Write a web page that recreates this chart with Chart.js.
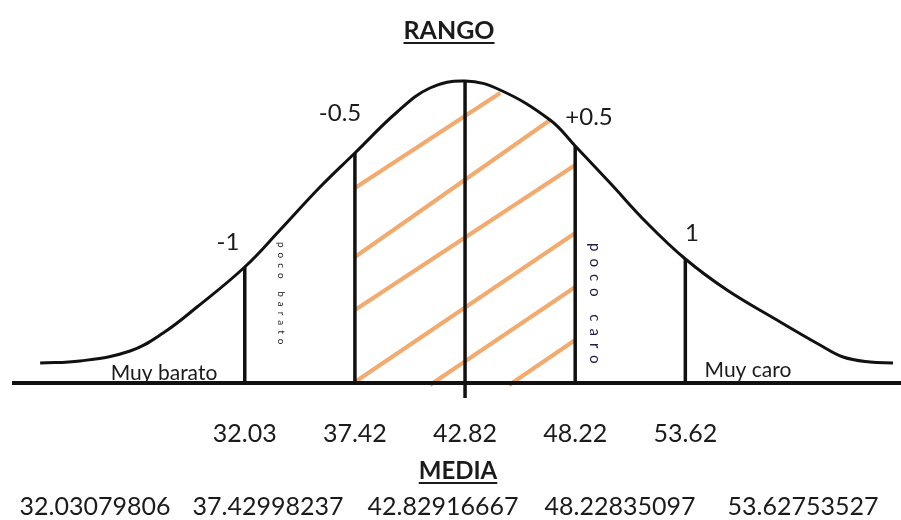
<!DOCTYPE html>
<html>
<head>
<meta charset="utf-8">
<script src="https://cdn.jsdelivr.net/npm/chart.js@4.4.1/dist/chart.umd.min.js"></script>
<style>
  html, body { margin: 0; padding: 0; background: #fff; }
  #wrap { width: 901px; height: 520px; }
</style>
</head>
<body>
<div id="wrap"><canvas id="myChart" width="901" height="520"></canvas></div>
<script>
// media y cortes a +/- 0.5 y 1 desviación
const cortes = [32.03079806, 37.42998237, 42.82916667, 48.22835097, 53.62753527];
const desv = ['-1', '-0.5', '', '+0.5', '1'];
// altura de la curva en cada corte
const alturaCortes = [116, 230, 302, 237, 124];

// curva campana
const curvaX = [22.00, 23.96, 26.41, 28.03, 29.69, 32.03, 33.76, 35.72, 37.43, 39.50, 41.11, 42.83,
                44.55, 47.00, 48.23, 49.94, 51.75, 53.63, 55.67, 58.12, 60.23, 61.36, 62.68, 63.81];
const curvaY = [20, 22, 32, 50, 76, 116, 153, 196, 230, 271, 295, 302,
                293, 263, 237, 200, 160, 124, 93, 63, 38, 26, 21, 20];

// rayado naranja entre -0.5 y +0.5
const rayaX1 = [37.43, 37.43, 37.43, 37.43, 41.11, 44.99];
const rayaY1 = [195, 126, 73, 1, -2, -2];
const rayaX2 = [44.55, 47.00, 48.23, 48.23, 48.23, 48.23];
const rayaY2 = [290, 263, 218, 150, 96, 43];

const xMin = 20.62, xMax = 64.20;

const negro = '#111';
const naranja = 'rgb(243,170,110)';

const linea = (data, color, ancho) => ({
  data: data,
  borderColor: color,
  borderWidth: ancho,
  pointRadius: 0,
  fill: false,
  clip: false,
  borderCapStyle: 'butt'
});

const datasets = [];
// curva
datasets.push(Object.assign(linea(curvaX.map((x, i) => ({x: x, y: curvaY[i]})), negro, 3),
  {tension: 0.4}));
// eje base
datasets.push(linea([{x: xMin, y: 0}, {x: xMax, y: 0}], negro, 4));
// verticales
cortes.forEach((c, i) => {
  datasets.push(linea([{x: c, y: i === 2 ? -15 : 0}, {x: c, y: alturaCortes[i]}], negro, 3.5));
});
// rayas
rayaX1.forEach((x, i) => {
  datasets.push(linea([{x: x, y: rayaY1[i]}, {x: rayaX2[i], y: rayaY2[i]}], naranja, 4));
});

function subrayado(ctx, txt, x, y, font, yLinea) {
  ctx.font = font;
  ctx.fillText(txt, x, y);
  const w = ctx.measureText(txt).width;
  ctx.fillRect(x - w / 2, yLinea, w, 2);
}

function vertical(ctx, txt, x, y, font, esp, color) {
  ctx.save();
  ctx.translate(x, y);
  ctx.rotate(Math.PI / 2);
  ctx.font = font;
  ctx.letterSpacing = esp;
  ctx.fillStyle = color;
  ctx.textAlign = 'left';
  ctx.fillText(txt, 0, 0);
  ctx.restore();
}

const textos = {
  id: 'textos',
  afterDraw(chart) {
    const {ctx, scales: {x}} = chart;
    ctx.save();
    ctx.fillStyle = '#1b1b1b';
    ctx.textAlign = 'center';
    ctx.textBaseline = 'middle';

    subrayado(ctx, 'RANGO', 449, 31, 'bold 25px Lato', 42);
    subrayado(ctx, 'MEDIA', 458, 471, 'bold 24px Lato', 482);

    // etiquetas de desviación
    ctx.font = '24px Lato';
    const posDesv = [[228, 242], [340, 113], null, [589, 117], [692, 233]];
    desv.forEach((d, i) => {
      if (posDesv[i]) ctx.fillText(d, posDesv[i][0], posDesv[i][1]);
    });

    // valores redondeados bajo el eje
    ctx.font = '25px Lato';
    cortes.forEach(v => {
      ctx.fillText((Math.floor(v * 100) / 100).toFixed(2), x.getPixelForValue(v), 434);
    });

    // valores completos
    ctx.font = '25px Lato';
    const posFila = [95, 268, 443, 620, 803];
    cortes.forEach((v, i) => ctx.fillText(v.toFixed(8), posFila[i], 507));

    ctx.font = '21px Lato';
    ctx.fillText('Muy barato', 164, 373);
    ctx.fillText('Muy caro', 748, 370);

    vertical(ctx, 'poco barato', 281, 242, '10px Lato', '5px', '#222');
    vertical(ctx, 'poco caro', 595, 243, '15px Lato', '7px', '#20204a');
    ctx.restore();
  }
};

const ctx = document.getElementById('myChart');
new Chart(ctx, {
  type: 'line',
  data: { datasets: datasets },
  options: {
    responsive: false,
    animation: false,
    layout: { padding: { left: 12, right: 0, top: 0, bottom: 137 } },
    plugins: { legend: { display: false }, tooltip: { enabled: false } },
    scales: {
      x: { type: 'linear', min: xMin, max: xMax, display: false },
      y: { min: 0, max: 383, display: false }
    }
  },
  plugins: [textos]
});
</script>
</body>
</html>
